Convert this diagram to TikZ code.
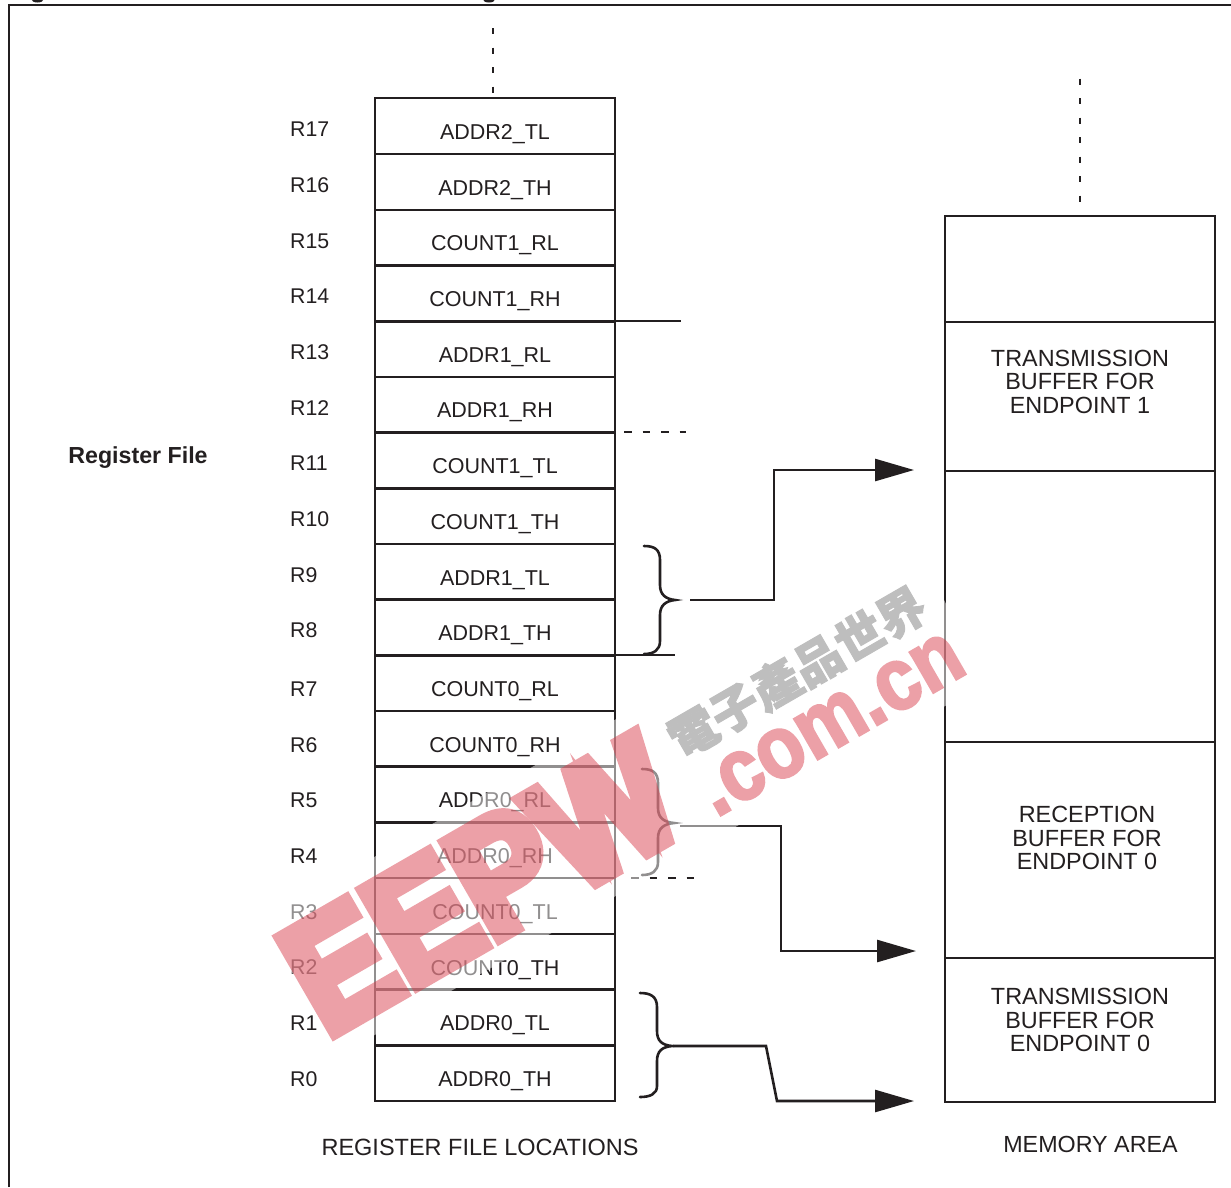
\documentclass[tikz,border=0pt]{standalone}
\usepackage{fontspec}
\setmainfont{Liberation Sans}
\newfontfamily\wmfont{Liberation Sans}[BoldFeatures={FakeBold=8}]
\newfontfamily\wmsmall{Liberation Sans}[BoldFeatures={FakeBold=3}]
\newfontfamily\cjkfont{Noto Sans CJK TC}[BoldFeatures={FakeBold=2}]
\usetikzlibrary{arrows.meta}
\definecolor{ink}{HTML}{231F20}
\definecolor{wmred}{RGB}{215,55,70}
\definecolor{wmgrey}{HTML}{BEBEBE}
\tikzset{
  wire/.style={draw=ink,line width=2.6pt},
  frameline/.style={draw=ink,line width=2.8pt},
  cellbox/.style={wire,minimum width=240pt,inner sep=0pt,text height=40.85pt,text depth=14.85pt,
     text=ink,font=\fontsize{21.5}{24}\selectfont},
  membox/.style={wire,minimum width=270pt,inner sep=0pt,anchor=north},
  regname/.style={anchor=west,inner sep=0pt,text=ink,font=\fontsize{21.3}{24}\selectfont},
  memtext/.style={align=center,inner sep=0pt,text=ink,font=\fontsize{23.4}{23.5}\selectfont},
  caption/.style={inner sep=0pt,text=ink,font=\fontsize{23.5}{24}\selectfont},
  bracecurve/.style={draw=ink,line width=2.6pt,line cap=round},
  arrowline/.style={wire,line join=miter,-{Triangle[length=39pt,width=22pt]}},
  dashv/.style={wire,dash pattern=on 6pt off 13.5pt},
  dashh/.style={wire,dash pattern=on 7.5pt off 11pt},
  wmtext/.style={rotate=30,anchor=base west,inner sep=0pt,text=wmred},
}
\begin{document}
\begin{tikzpicture}[x=1pt,y=-1pt]
\useasboundingbox (0,0) rectangle (1231,1187);
\fill[white] (0,0) rectangle (1231,1187);
% frame
\draw[frameline] (9,1187) -- (9,5) -- (1231,5);
\fill[ink] (37.5,-0.5) ellipse (6pt and 3pt);
\fill[ink] (489,-0.5) ellipse (6pt and 3pt);
% register cells and names
\foreach \nm/\txt/\rn/\yy/\ly in {
 a/ADDR2\_TL/R17/126/129, b/ADDR2\_TH/R16/182/185, c/COUNT1\_RL/R15/237.7/241,
 d/COUNT1\_RH/R14/293.4/296, e/ADDR1\_RL/R13/349/352, f/ADDR1\_RH/R12/404.8/408,
 g/COUNT1\_TL/R11/460.5/463, h/COUNT1\_TH/R10/516/519, i/ADDR1\_TL/R9/572/575,
 j/ADDR1\_TH/R8/627.5/630, k/COUNT0\_RL/R7/683/689, l/COUNT0\_RH/R6/739/745,
 m/ADDR0\_RL/R5/794.5/800, n/ADDR0\_RH/R4/850/856, o/COUNT0\_TL/R3/906/912,
 p/COUNT0\_TH/R2/962/967, q/ADDR0\_TL/R1/1017.5/1023, r/ADDR0\_TH/R0/1073/1079}
{
  \node[cellbox] (cell\nm) at (495,\yy) {\txt};
  \node[regname] (name\nm) at (290,\ly) {\rn};
}
\node[inner sep=0pt,text=ink,font=\fontsize{23.2}{24}\selectfont\bfseries] (regfile) at (138,458) {Register File};
% memory cells
\node[membox,minimum height=106pt] (m1) at (1080,214.5) {};
\node[membox,minimum height=149pt] (m2) at (1080,320.5) {};
\node[membox,minimum height=271pt] (m3) at (1080,469.5) {};
\node[membox,minimum height=216pt] (m4) at (1080,740.5) {};
\node[membox,minimum height=144pt] (m5) at (1080,956.5) {};
\node[memtext] (t1) at (1080,381.5) {TRANSMISSION\\BUFFER FOR\\ENDPOINT 1};
\node[memtext] (t2) at (1087,838) {RECEPTION\\BUFFER FOR\\ENDPOINT 0};
\node[memtext] (t3) at (1080,1020) {TRANSMISSION\\BUFFER FOR\\ENDPOINT 0};
\node[caption] (cap1) at (480,1147) {REGISTER FILE LOCATIONS};
\node[caption,font=\fontsize{23.3}{24}\selectfont] (cap2) at (1090.5,1144) {MEMORY AREA};
% free ends
\coordinate (topreg) at (493,28);
\coordinate (topmem) at (1080,78.5);
\coordinate (ext1) at (681,321);
\coordinate (ext2) at (675,655);
\coordinate (dash1a) at (624,432);
\coordinate (dash1b) at (686,432);
\coordinate (dash2a) at (631,878);
\coordinate (dash2b) at (697,878);
\coordinate (b1) at (675,600);
\coordinate (b2) at (674,823);
\coordinate (b3) at (672,1046);
\coordinate (s1) at (690,600);
\coordinate (s2) at (680,826);
\coordinate (s3) at (673,1046);
\coordinate (e1) at (914,470);
\coordinate (e2) at (916,951);
\coordinate (e3) at (914,1101);
% dashed and extension lines
\draw[dashv] (topreg) -- (cella.north -| topreg);
\draw[dashv] (topmem) -- (m1.north);
\draw[wire] (615,321) -- (ext1);
\draw[wire] (615,655) -- (ext2);
\draw[dashh] (dash1a) -- (dash1b);
\draw[dashh] (dash2a) -- (dash2b);
% braces
\draw[bracecurve] (644,546) .. controls (654,546) and (660,549) .. (660,560) -- (660,585)
   .. controls (660,595) and (666,599) .. (b1) .. controls (666,601) and (660,605) .. (660,615)
   -- (660,641) .. controls (660,650) and (654,654) .. (644,654);
\draw[bracecurve] (642,769) .. controls (652,769) and (658,772) .. (658,783) -- (658,808)
   .. controls (658,818) and (664,822) .. (b2) .. controls (664,824) and (658,828) .. (658,838)
   -- (658,862) .. controls (658,871) and (652,875) .. (642,875);
\draw[bracecurve] (640,993) .. controls (650,993) and (657,996) .. (657,1007) -- (657,1031)
   .. controls (657,1041) and (662,1045) .. (b3) .. controls (662,1047) and (657,1051) .. (657,1061)
   -- (657,1086) .. controls (657,1094) and (650,1097) .. (640,1097);
% arrows
\draw[arrowline] (s1) -| (774,470) -- (e1);
\draw[arrowline] (s2) -| (781,951) -- (e2);
\draw[arrowline] (s3) -- (766,1046) -- (777,1101) -- (e3);
% watermark
\fill[white,opacity=.5] (262,921) -- (918,547) -- (985,683) -- (340,1055) -- cycle;
\begin{scope}[transparency group,opacity=.47]
\node[wmtext] (wm1) at (326,1038)
  {\scalebox{.86}[.96]{\fontsize{166}{170}\selectfont\wmfont\bfseries EEPW}};
\node[wmtext] (wm2) at (716,818)
  {\scalebox{.88}[1]{\fontsize{88}{95}\selectfont\wmsmall\bfseries .com.cn}};
\end{scope}
\node[rotate=30,inner sep=0pt,text=wmgrey] (wm3) at (797,672)
  {\fontsize{48}{55}\selectfont\cjkfont\bfseries 電子產品世界};
\end{tikzpicture}
\end{document}
